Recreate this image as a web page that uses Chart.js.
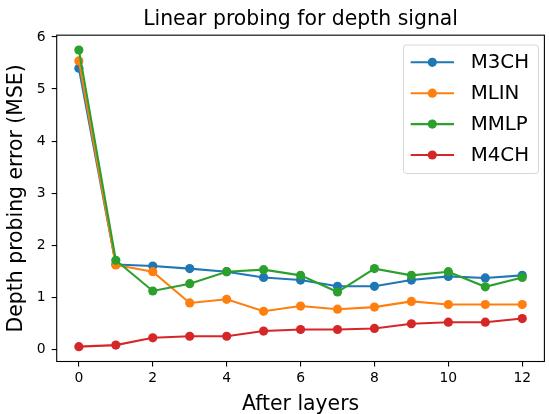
<!DOCTYPE html>
<html lang="en">
<head>
    <meta charset="UTF-8" />
    <title>Linear probing for depth signal</title>
    <script src="https://cdn.jsdelivr.net/npm/chart.js@4.4.0/dist/chart.umd.min.js"></script>
    <style>
        html, body { margin: 0; padding: 0; background: #fff; }
        canvas { display: block; }
    </style>
</head>
<body>
    <canvas id="depthChart" width="549" height="414"></canvas>

    <script>
        // Datos
        const layers = [0, 1, 2, 3, 4, 5, 6, 7, 8, 9, 10, 11, 12];
        const seriesNames = ['M3CH', 'MLIN', 'MMLP', 'M4CH'];
        const m3ch = [5.40, 1.63, 1.60, 1.55, 1.49, 1.38, 1.33, 1.21, 1.21, 1.33, 1.40, 1.37, 1.42];
        const mlin = [5.54, 1.62, 1.49, 0.89, 0.96, 0.73, 0.83, 0.77, 0.81, 0.92, 0.86, 0.86, 0.86];
        const mmlp = [5.75, 1.71, 1.12, 1.26, 1.49, 1.53, 1.42, 1.10, 1.55, 1.42, 1.49, 1.20, 1.38];
        const m4ch = [0.05, 0.08, 0.22, 0.25, 0.25, 0.35, 0.38, 0.38, 0.40, 0.49, 0.52, 0.52, 0.59];
        const xTickValues = [0, 2, 4, 6, 8, 10, 12];
        const yTickValues = [0, 1, 2, 3, 4, 5, 6];

        const colores = ['#1f77b4', '#ff7f0e', '#2ca02c', '#d62728'];
        const FONT = "'DejaVu Sans', 'Liberation Sans', sans-serif";

        const valores = [m3ch, mlin, mmlp, m4ch];
        const datasets = valores.map((serie, i) => ({
            label: seriesNames[i],
            data: serie.map((v, j) => ({ x: layers[j], y: v })),
            borderColor: colores[i],
            backgroundColor: colores[i],
            pointBackgroundColor: colores[i],
            pointBorderWidth: 0,
            pointRadius: 4.6,
            borderWidth: 2.1,
            tension: 0,
            order: 3 - i
        }));

        // Marco completo de los ejes
        const marcoPlugin = {
            id: 'marco',
            afterDatasetsDraw(chart) {
                const { ctx, chartArea: a } = chart;
                ctx.save();
                ctx.strokeStyle = '#000';
                ctx.lineWidth = 1.1;
                ctx.strokeRect(a.left, a.top, a.right - a.left, a.bottom - a.top);
                ctx.restore();
            }
        };

        // Leyenda dentro del área, arriba a la derecha
        const leyendaPlugin = {
            id: 'leyendaInterna',
            afterDraw(chart) {
                const ctx = chart.ctx;
                const x0 = 403.5, y0 = 45, w = 135, h = 128.5;
                ctx.save();
                ctx.beginPath();
                ctx.roundRect(x0, y0, w, h, 3);
                ctx.fillStyle = 'rgba(255,255,255,0.8)';
                ctx.fill();
                ctx.strokeStyle = '#d6d6d6';
                ctx.lineWidth = 1;
                ctx.stroke();
                ctx.font = '19.8px ' + FONT;
                ctx.textBaseline = 'middle';
                ctx.textAlign = 'left';
                seriesNames.forEach((nombre, i) => {
                    const y = 62.3 + i * 30.9;
                    ctx.strokeStyle = colores[i];
                    ctx.lineWidth = 2.1;
                    ctx.beginPath();
                    ctx.moveTo(410.7, y);
                    ctx.lineTo(454, y);
                    ctx.stroke();
                    ctx.fillStyle = colores[i];
                    ctx.beginPath();
                    ctx.arc(432.3, y, 4.6, 0, Math.PI * 2);
                    ctx.fill();
                    ctx.fillStyle = '#000';
                    ctx.fillText(nombre, 470.7, y + 1);
                });
                ctx.restore();
            }
        };

        new Chart(document.getElementById('depthChart'), {
            type: 'line',
            data: { datasets },
            options: {
                responsive: false,
                animation: false,
                layout: { padding: { left: 0, right: 2, top: 0, bottom: 0 } },
                plugins: {
                    legend: { display: false },
                    tooltip: { enabled: false },
                    title: {
                        display: true,
                        text: 'Linear probing for depth signal',
                        fullSize: false,
                        color: '#000',
                        font: { family: FONT, size: 20.4, weight: 'normal', lineHeight: 1.2 },
                        padding: { top: 7.6, bottom: 3.1 }
                    }
                },
                scales: {
                    x: {
                        type: 'linear',
                        min: -0.6,
                        max: 12.6,
                        afterBuildTicks: s => { s.ticks = xTickValues.map(v => ({ value: v })); },
                        afterFit: s => { s.height = 52.5; },
                        grid: { drawOnChartArea: false, drawTicks: true, tickLength: 5, color: '#000', lineWidth: 1.1 },
                        border: { display: false },
                        ticks: { color: '#000', padding: 4, maxRotation: 0, font: { family: FONT, size: 13.9 } },
                        title: {
                            display: true,
                            text: 'After layers',
                            color: '#000',
                            font: { family: FONT, size: 20.4, lineHeight: 0.9 },
                            padding: { top: 0, bottom: 0 }
                        }
                    },
                    y: {
                        type: 'linear',
                        min: -0.235,
                        max: 6.035,
                        afterBuildTicks: s => { s.ticks = yTickValues.map(v => ({ value: v })); },
                        afterFit: s => { s.width = 56.7; },
                        grid: { drawOnChartArea: false, drawTicks: true, tickLength: 5, color: '#000', lineWidth: 1.1 },
                        border: { display: false },
                        ticks: { color: '#000', padding: 6, font: { family: FONT, size: 13.9 } },
                        title: {
                            display: true,
                            text: 'Depth probing error (MSE)',
                            color: '#000',
                            font: { family: FONT, size: 20.4, lineHeight: 1.2 },
                            padding: { top: 4.5, bottom: 0 }
                        }
                    }
                }
            },
            plugins: [marcoPlugin, leyendaPlugin]
        });
    </script>
</body>
</html>
